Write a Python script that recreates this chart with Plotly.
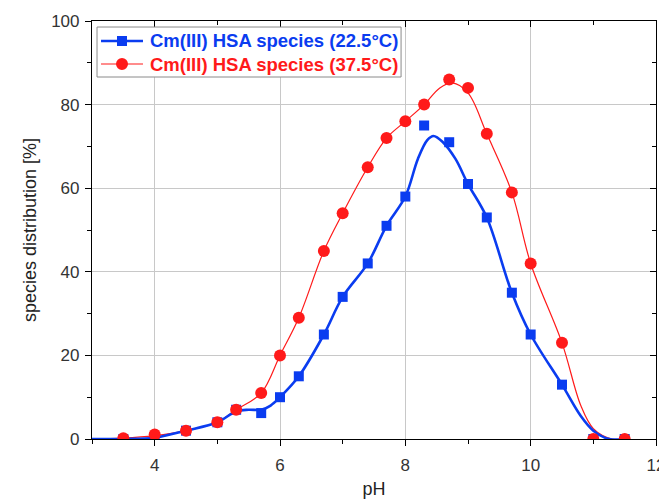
import plotly.graph_objects as go

# measured points
ph_pts = [3.5, 4.0, 4.5, 5.0, 5.3, 5.7, 6.0, 6.3, 6.7, 7.0, 7.4, 7.7, 8.0, 8.3, 8.7, 9.0, 9.3, 9.7, 10.0, 10.5, 11.0, 11.5]
blue_pts = [0, 0.3, 2, 4, 7, 6.2, 10, 15, 25, 34, 42, 51, 58, 75, 71, 61, 53, 35, 25, 13, 0, 0]
red_pts = [0.2, 1.1, 2, 4, 7, 11, 20, 29, 45, 54, 65, 72, 76, 80, 86, 84, 73, 59, 42, 23, 0, 0]

# fitted curves
ph_blue_fit = [3.0, 3.5, 4.0, 4.5, 5.0, 5.3, 5.5, 5.7, 5.85, 6.0, 6.3, 6.7, 7.0, 7.4, 7.7, 8.0, 8.2, 8.35, 8.45, 8.6, 8.8, 9.0, 9.3, 9.7, 10.0, 10.5, 10.8, 11.0, 11.25, 11.5]
blue_fit = [0, 0, 0.3, 2, 4, 6.6, 7, 7, 8, 10, 15, 25, 34, 42, 51, 58, 67, 71.5, 72.5, 71, 67, 61, 53, 35, 25, 13, 5.5, 2, 0, 0]
ph_red_fit = [3.0, 3.5, 4.0, 4.5, 5.0, 5.3, 5.7, 6.0, 6.3, 6.7, 7.0, 7.4, 7.7, 8.0, 8.3, 8.55, 8.75, 9.0, 9.3, 9.7, 10.0, 10.5, 10.8, 11.0, 11.3, 11.5]
red_fit = [0, 0.2, 0.8, 2, 4, 7, 11, 20, 29, 45, 54, 65, 72, 76, 80, 84, 85.2, 82.8, 73, 59, 42, 23, 8, 2.5, 0, 0]

series_names = ["Cm(III) HSA species (22.5°C)", "Cm(III) HSA species (37.5°C)"]

BLUE = "#0a3cf0"
RED = "#ff1a1a"

fig = go.Figure()
fig.add_trace(go.Scatter(x=ph_red_fit, y=red_fit, mode="lines", line=dict(color=RED, width=1.2, shape="spline"),
                         showlegend=False, hoverinfo="skip"))
fig.add_trace(go.Scatter(x=ph_blue_fit, y=blue_fit, mode="lines", line=dict(color=BLUE, width=2.6, shape="spline"),
                         showlegend=False, hoverinfo="skip"))
fig.add_trace(go.Scatter(x=ph_pts, y=blue_pts, mode="markers", cliponaxis=True, name=series_names[0],
                         marker=dict(symbol="square", size=10, color=BLUE), showlegend=False))
fig.add_trace(go.Scatter(x=ph_pts, y=red_pts, mode="markers", cliponaxis=True, name=series_names[1],
                         marker=dict(symbol="circle", size=12, color=RED), showlegend=False))
# dummy trace for top/right axes
fig.add_trace(go.Scatter(x=[None], y=[None], xaxis="x2", yaxis="y2", showlegend=False, hoverinfo="skip"))

FONT = "Liberation Sans, Arial"

# ---- legend box (drawn in paper coordinates) ----
legend_rows = [(series_names[0], BLUE, "square", 10, 2.6, 0.9522),
               (series_names[1], RED, "circle", 12, 1.2, 0.8971)]
shapes = [dict(type="rect", xref="paper", yref="paper", x0=0.0089, x1=0.548, y0=0.866, y1=0.9856,
               line=dict(color="#8a8a8a", width=1), fillcolor="white", layer="above")]
annotations = []
for text, col, sym, sz, lw, yy in legend_rows:
    shapes.append(dict(type="line", xref="paper", yref="paper", x0=0.016, x1=0.0904, y0=yy, y1=yy,
                       line=dict(color=col, width=lw), layer="above"))
    h = sz / 2
    shapes.append(dict(type=("rect" if sym == "square" else "circle"), xref="paper", yref="paper",
                       xsizemode="pixel", ysizemode="pixel", xanchor=0.0532, yanchor=yy,
                       x0=-h, x1=h, y0=-h, y1=h, fillcolor=col, line=dict(color=col, width=0),
                       layer="above"))
    annotations.append(dict(xref="paper", yref="paper", x=0.100, y=yy, xanchor="left", yanchor="middle",
                            text="<b>%s</b>" % text, showarrow=False,
                            font=dict(family=FONT, size=18.5, color=col)))

axis_common = dict(showline=True, linecolor="black", linewidth=1.2, zeroline=False, automargin=False,
                   tickfont=dict(family=FONT, size=17, color="#333333"))
# the page body has an 8px default margin, so the figure is made 8px smaller and margins shifted
fig.update_layout(
    width=659, height=491,
    margin=dict(l=84, r=11, t=13, b=60),
    paper_bgcolor="white", plot_bgcolor="white",
    font=dict(family=FONT, color="#222222"),
    xaxis=dict(range=[3, 12], dtick=2, ticks="outside", ticklen=6, tickcolor="black",
               showgrid=True, gridcolor="#c8c8c8", gridwidth=1, ticklabelstandoff=4,
               minor=dict(dtick=1, ticks="outside", ticklen=4, tickcolor="black", showgrid=False),
               title=dict(text="pH", font=dict(size=18, color="#222222"), standoff=26),
               **axis_common),
    yaxis=dict(range=[0, 100], dtick=20, ticks="outside", ticklen=6, tickcolor="black",
               showgrid=True, gridcolor="#c8c8c8", gridwidth=1, ticklabelstandoff=2,
               minor=dict(dtick=10, ticks="outside", ticklen=4, tickcolor="black", showgrid=False),
               title=dict(text="species distribution [%]", font=dict(size=18, color="#222222"), standoff=9),
               **axis_common),
    xaxis2=dict(range=[3, 12], overlaying="x", side="top", anchor="y2", dtick=2, ticks="inside", ticklen=6,
                tickcolor="black", showticklabels=False, showgrid=False, showline=True, linecolor="black",
                linewidth=1.2, zeroline=False, automargin=False,
                minor=dict(dtick=1, ticks="inside", ticklen=4, tickcolor="black")),
    yaxis2=dict(range=[0, 100], overlaying="y", side="right", anchor="x2", dtick=20, ticks="inside", ticklen=6,
                tickcolor="black", showticklabels=False, showgrid=False, showline=True, linecolor="black",
                linewidth=1.2, zeroline=False, automargin=False,
                minor=dict(dtick=10, ticks="inside", ticklen=4, tickcolor="black")),
    shapes=shapes,
    annotations=annotations,
    showlegend=False,
)

fig.write_html("out.html")
